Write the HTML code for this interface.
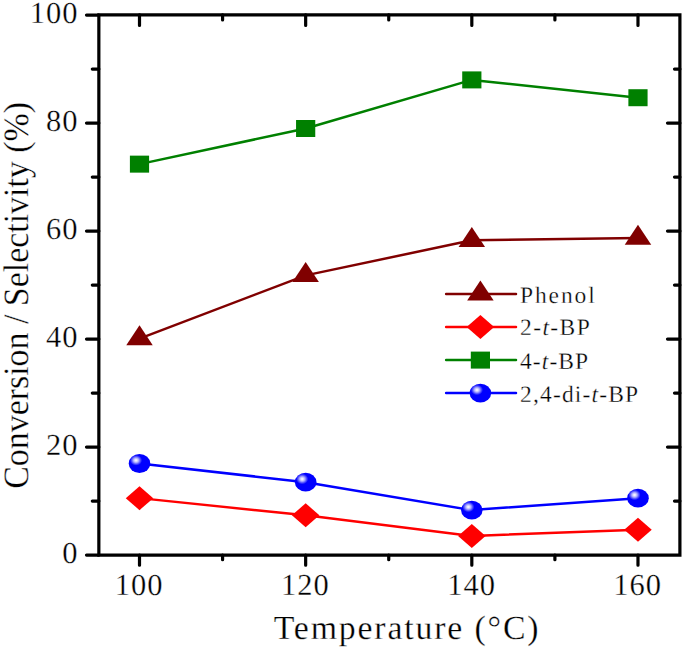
<!DOCTYPE html>
<html><head><meta charset="utf-8"><style>
html,body{margin:0;padding:0;background:#fff;}
svg{display:block;}
text{font-family:"Liberation Serif",serif;fill:#000;text-rendering:geometricPrecision;stroke:#fff;stroke-width:0.3px;}
.tl{font-size:30.5px;letter-spacing:1px;}
.ti{font-size:33.8px;}
.lg{font-size:23.5px;}
</style></head><body>
<svg width="685" height="650" viewBox="0 0 685 650">
<defs><radialGradient id="sg" cx="0.34" cy="0.33" r="0.28" fx="0.34" fy="0.33">
<stop offset="0" stop-color="#ffffff"/><stop offset="0.18" stop-color="#e6e6ff"/><stop offset="0.45" stop-color="#a8a8ff"/><stop offset="0.75" stop-color="#4848ff"/><stop offset="1" stop-color="#0000ff"/></radialGradient></defs>
<polyline points="139.50,338.56 305.66,275.38 471.82,240.28 637.98,238.12" fill="none" stroke="#800000" stroke-width="2.5" stroke-linejoin="round"/><polyline points="139.50,498.13 305.66,515.30 471.82,535.93 637.98,529.77" fill="none" stroke="#ff0000" stroke-width="2.5" stroke-linejoin="round"/><polyline points="139.50,164.14 305.66,128.50 471.82,79.90 637.98,97.72" fill="none" stroke="#008000" stroke-width="2.5" stroke-linejoin="round"/><polyline points="139.50,463.52 305.66,482.20 471.82,510.12 637.98,498.13" fill="none" stroke="#0000ff" stroke-width="2.5" stroke-linejoin="round"/><path d="M139.50 325.23L152.75 345.23L126.25 345.23Z" fill="#800000"/><path d="M305.66 262.05L318.91 282.05L292.41 282.05Z" fill="#800000"/><path d="M471.82 226.95L485.07 246.95L458.57 246.95Z" fill="#800000"/><path d="M637.98 224.79L651.23 244.79L624.73 244.79Z" fill="#800000"/><path d="M139.50 486.13L153.25 498.13L139.50 510.13L125.75 498.13Z" fill="#ff0000"/><path d="M305.66 503.30L319.41 515.30L305.66 527.30L291.91 515.30Z" fill="#ff0000"/><path d="M471.82 523.93L485.57 535.93L471.82 547.93L458.07 535.93Z" fill="#ff0000"/><path d="M637.98 517.77L651.73 529.77L637.98 541.77L624.23 529.77Z" fill="#ff0000"/><rect x="129.90" y="155.64" width="19.20" height="17.00" fill="#008000"/><rect x="296.06" y="120.00" width="19.20" height="17.00" fill="#008000"/><rect x="462.22" y="71.40" width="19.20" height="17.00" fill="#008000"/><rect x="628.38" y="89.22" width="19.20" height="17.00" fill="#008000"/><ellipse cx="139.50" cy="463.52" rx="10.80" ry="9.40" fill="url(#sg)"/><ellipse cx="305.66" cy="482.20" rx="10.80" ry="9.40" fill="url(#sg)"/><ellipse cx="471.82" cy="510.12" rx="10.80" ry="9.40" fill="url(#sg)"/><ellipse cx="637.98" cy="498.13" rx="10.80" ry="9.40" fill="url(#sg)"/>
<path d="M98.85 14.9H679.9V555.1H98.85Z" fill="none" stroke="#000" stroke-width="3.2" stroke-linejoin="miter"/><path d="M86.50 555.10H98.85 M92.30 501.10H98.85 M674.50 501.10H679.90 M86.50 447.10H98.85 M667.50 447.10H679.90 M92.30 393.10H98.85 M674.50 393.10H679.90 M86.50 339.10H98.85 M667.50 339.10H679.90 M92.30 285.10H98.85 M674.50 285.10H679.90 M86.50 231.10H98.85 M667.50 231.10H679.90 M92.30 177.10H98.85 M674.50 177.10H679.90 M86.50 123.10H98.85 M667.50 123.10H679.90 M92.30 69.10H98.85 M674.50 69.10H679.90 M86.50 15.10H98.85 M139.50 555.10V565.20 M139.50 14.90V25.40 M222.58 555.10V559.70 M222.58 14.90V19.90 M305.66 555.10V565.20 M305.66 14.90V25.40 M388.74 555.10V559.70 M388.74 14.90V19.90 M471.82 555.10V565.20 M471.82 14.90V25.40 M554.90 555.10V559.70 M554.90 14.90V19.90 M637.98 555.10V565.20 M637.98 14.90V25.40" stroke="#000" stroke-width="3.2" stroke-linecap="round" fill="none"/>
<text x="78.4" y="563.10" text-anchor="end" class="tl">0</text><text x="78.4" y="455.10" text-anchor="end" class="tl">20</text><text x="78.4" y="347.10" text-anchor="end" class="tl">40</text><text x="78.4" y="239.10" text-anchor="end" class="tl">60</text><text x="78.4" y="131.10" text-anchor="end" class="tl">80</text><text x="78.4" y="23.10" text-anchor="end" class="tl">100</text><text x="139.20" y="594.9" text-anchor="middle" class="tl">100</text><text x="305.36" y="594.9" text-anchor="middle" class="tl">120</text><text x="471.52" y="594.9" text-anchor="middle" class="tl">140</text><text x="637.68" y="594.9" text-anchor="middle" class="tl">160</text><text x="273.7" y="639.4" class="ti" letter-spacing="1.84">Temperature (°C)</text><text transform="translate(28.0,488.8) rotate(-90) scale(1,1.05)" class="ti" style="font-size:33.9px">Conversion / Selectivity (%)</text>
<path d="M446.1 293.9H516" stroke="#800000" stroke-width="2.5" stroke-linecap="round"/><path d="M480.40 280.57L493.65 300.57L467.15 300.57Z" fill="#800000"/><text x="520" y="302.9" class="lg" letter-spacing="1.9">Phenol</text><path d="M446.1 327.1H516" stroke="#ff0000" stroke-width="2.5" stroke-linecap="round"/><path d="M480.40 315.10L494.15 327.10L480.40 339.10L466.65 327.10Z" fill="#ff0000"/><text x="520" y="335.4" class="lg" letter-spacing="1.4">2-<tspan font-style="italic">t</tspan>-BP</text><path d="M446.1 360.1H516" stroke="#008000" stroke-width="2.5" stroke-linecap="round"/><rect x="470.80" y="351.60" width="19.20" height="17.00" fill="#008000"/><text x="520" y="368.7" class="lg" letter-spacing="1.1">4-<tspan font-style="italic">t</tspan>-BP</text><path d="M446.1 393.1H516" stroke="#0000ff" stroke-width="2.5" stroke-linecap="round"/><ellipse cx="480.40" cy="393.10" rx="10.80" ry="9.40" fill="url(#sg)"/><text x="520" y="401.6" class="lg" letter-spacing="1.17">2,4-di-<tspan font-style="italic">t</tspan>-BP</text>
</svg>
</body></html>
